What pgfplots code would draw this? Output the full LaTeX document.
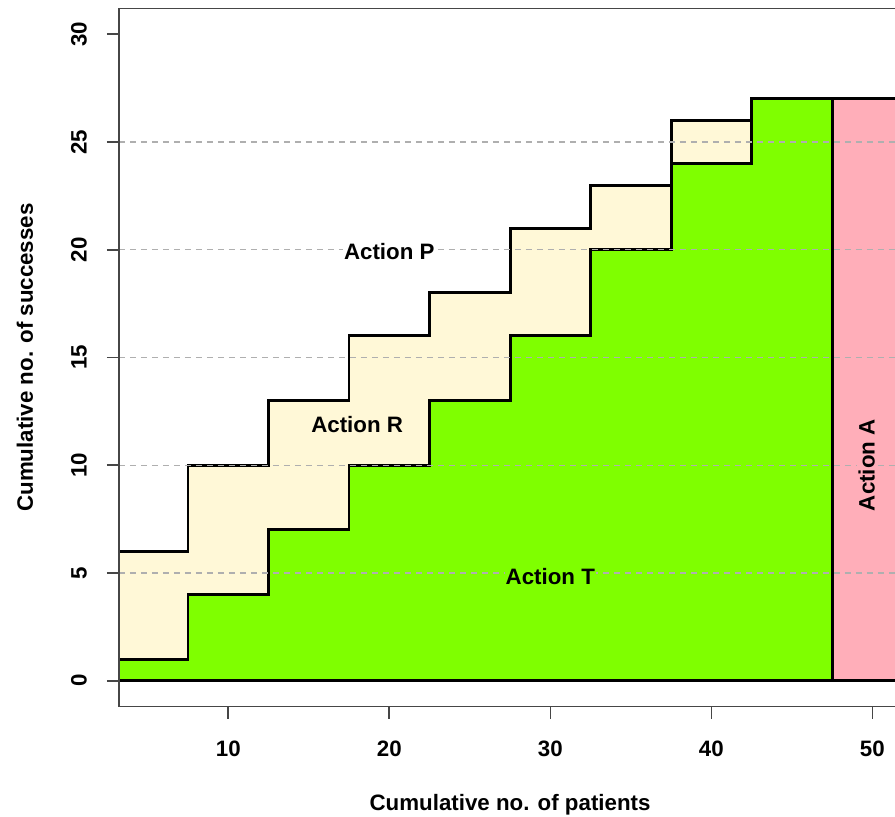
\documentclass[border=0pt]{standalone}
\usepackage{pgfplots}
\pgfplotsset{compat=1.18}
\usepackage{fontspec}
\setmainfont{Liberation Sans}
\definecolor{cream}{RGB}{255,248,215}
\definecolor{tgreen}{RGB}{127,255,0}
\definecolor{apink}{RGB}{255,174,185}
\definecolor{framec}{RGB}{70,70,70}
\definecolor{gridc}{RGB}{175,175,175}
\newcommand{\lbl}{\fontsize{22.3}{24}\selectfont\bfseries}
\begin{document}
\begin{tikzpicture}
\begin{axis}[
 scale only axis, width=782.5pt, height=698.2pt,
 xmin=3.2, xmax=51.8, ymin=-1.2, ymax=31.2,
 axis on top,
 axis line style={framec, line width=1.6pt},
 every tick/.style={framec, line width=1.6pt},
 tick align=outside, major tick length=12pt,
 xtick={10,20,30,40,50}, xtick pos=bottom,
 ytick={5,10,15,20,25}, extra y ticks={0,30}, extra y tick style={grid=none}, ytick pos=left,
 ymajorgrids, grid style={gridc, line width=1.4pt, dash pattern=on 6pt off 5pt},
 /pgf/number format/assume math mode=true,
 tick label style={font=\lbl, inner sep=0pt},
 yticklabel style={rotate=90, anchor=south},
 xticklabel style={anchor=north, yshift=-0.5pt},
 xticklabel shift=21.4pt, yticklabel shift=19.8pt,
 xlabel={Cumulative no. of patients}, ylabel={Cumulative no. of successes},
 every axis x label/.style={at={(rel axis cs:0.5,0)}, anchor=base, yshift=-103.4pt, font=\lbl},
 every axis y label/.style={at={(rel axis cs:0,0.5)}, xshift=-85.8pt, rotate=90, anchor=base, font=\lbl},
]
% Action R region (upper step boundary down to 0)
\addplot[const plot, fill=cream, draw=none] coordinates {(0,0) (0,6) (7.5,10) (12.5,13) (17.5,16) (22.5,18) (27.5,21) (32.5,23) (37.5,26) (42.5,27) (47.5,27) (47.5,0) (0,0)};
% Action T region
\addplot[const plot, fill=tgreen, draw=none] coordinates {(0,0) (0,1) (7.5,4) (12.5,7) (17.5,10) (22.5,13) (27.5,16) (32.5,20) (37.5,24) (42.5,27) (47.5,27) (47.5,0) (0,0)};
% Action A region
\addplot[fill=apink, draw=none] coordinates {(47.5,0) (47.5,27) (60,27) (60,0) (47.5,0)};
% boundaries
\addplot[const plot, black, line width=2.9pt] coordinates {(0,6) (7.5,10) (12.5,13) (17.5,16) (22.5,18) (27.5,21) (32.5,23) (37.5,26) (42.5,27) (60,27)};
\addplot[const plot, black, line width=2.9pt] coordinates {(0,1) (7.5,4) (12.5,7) (17.5,10) (22.5,13) (27.5,16) (32.5,20) (37.5,24) (42.5,27) (47.5,27)};
\addplot[black, line width=2.9pt] coordinates {(47.5,0) (47.5,27)};
\addplot[black, line width=2.9pt] coordinates {(0,0) (60,0)};
\coordinate (lP) at (axis cs:20,19.9);
\coordinate (lR) at (axis cs:18,11.9);
\coordinate (lT) at (axis cs:30,4.85);
\coordinate (lA) at (axis cs:49.65,10);
\end{axis}
\node[font=\lbl, fill=white, inner sep=1pt] at (lP) {Action P};
\node[font=\lbl] at (lR) {Action R};
\node[font=\lbl, fill=tgreen, inner sep=1pt] at (lT) {Action T};
\node[font=\lbl, fill=apink, inner sep=1pt, rotate=90] at (lA) {Action A};
\pgfresetboundingbox
\path[use as bounding box] (current axis.south west) ++(-118.8pt,-110.4pt) rectangle ++(895pt,817pt);
\end{tikzpicture}
\end{document}
